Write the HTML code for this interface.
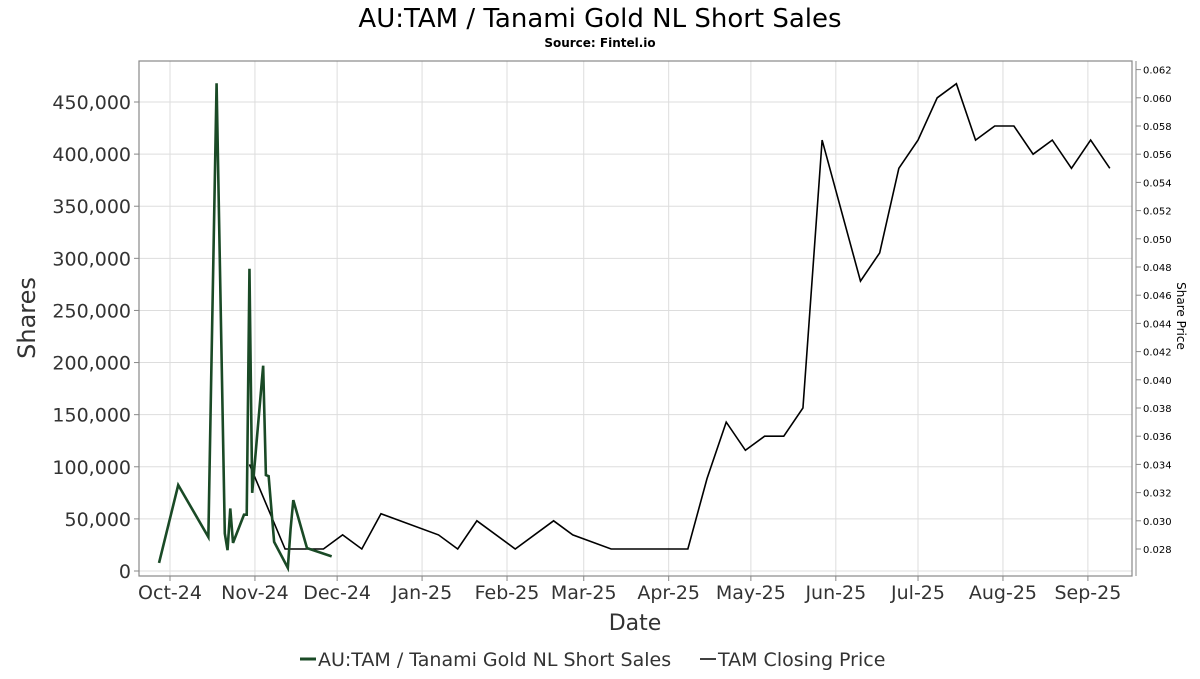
<!DOCTYPE html>
<html><head><meta charset="utf-8"><style>
body{margin:0;background:#fff;font-family:"DejaVu Sans","Liberation Sans",sans-serif}
svg text{font-family:"DejaVu Sans","Liberation Sans",sans-serif}
</style></head><body>
<svg id="chart" width="1200" height="675" xmlns="http://www.w3.org/2000/svg">
<rect width="1200" height="675" fill="#fff"/>
<text x="600" y="27" text-anchor="middle" font-size="26" fill="#000">AU:TAM / Tanami Gold NL Short Sales</text>
<text x="600" y="47" text-anchor="middle" font-size="12" font-weight="bold" fill="#000">Source: Fintel.io</text>
<g id="grid"></g>
<rect x="139" y="61" width="993" height="515" fill="none" stroke="#888" stroke-width="1.2"/>
<line x1="1136" y1="61" x2="1136" y2="576" stroke="#888"/>
<g id="axes"></g>
<g id="series"></g>
<text transform="translate(35,318) rotate(-90)" text-anchor="middle" font-size="24" fill="#333">Shares</text>
<text transform="translate(1177,316) rotate(90)" text-anchor="middle" font-size="12" fill="#000">Share Price</text>
<text x="635" y="630" text-anchor="middle" font-size="22" fill="#333">Date</text>
<g>
<line x1="300" y1="659" x2="316" y2="659" stroke="#1a4a26" stroke-width="3"/>
<text x="318" y="666" font-size="19" fill="#333">AU:TAM / Tanami Gold NL Short Sales</text>
<line x1="700" y1="659" x2="716" y2="659" stroke="#000" stroke-width="1.5"/>
<text x="718" y="666" font-size="19" fill="#333">TAM Closing Price</text>
</g>
</svg>
<script>
const shortDates=["2024-09-27","2024-10-04","2024-10-15","2024-10-16","2024-10-18","2024-10-21","2024-10-22","2024-10-23","2024-10-24","2024-10-28","2024-10-29","2024-10-30","2024-10-31","2024-11-04","2024-11-05","2024-11-06","2024-11-08","2024-11-13","2024-11-14","2024-11-15","2024-11-20","2024-11-29"];
const shortValues=[7700,82500,32600,180000,468000,36000,20000,60000,27000,54000,54000,290000,75000,197000,92000,91000,28000,3000,40000,68000,22000,14000];
const priceDates=["2024-10-30","2024-11-12","2024-11-19","2024-11-26","2024-12-03","2024-12-10","2024-12-17","2025-01-07","2025-01-14","2025-01-21","2025-02-04","2025-02-18","2025-02-25","2025-03-11","2025-03-18","2025-03-25","2025-04-01","2025-04-08","2025-04-15","2025-04-22","2025-04-29","2025-05-06","2025-05-13","2025-05-20","2025-05-27","2025-06-10","2025-06-17","2025-06-24","2025-07-01","2025-07-08","2025-07-15","2025-07-22","2025-07-29","2025-08-05","2025-08-12","2025-08-19","2025-08-26","2025-09-02","2025-09-09"];
const priceValues=[0.034,0.028,0.028,0.028,0.029,0.028,0.0305,0.029,0.028,0.030,0.028,0.030,0.029,0.028,0.028,0.028,0.028,0.028,0.033,0.037,0.035,0.036,0.036,0.038,0.057,0.047,0.049,0.055,0.057,0.060,0.061,0.057,0.058,0.058,0.056,0.057,0.055,0.057,0.055];
const xTickLabels=["Oct-24","Nov-24","Dec-24","Jan-25","Feb-25","Mar-25","Apr-25","May-25","Jun-25","Jul-25","Aug-25","Sep-25"];
const xTickDates=["2024-10-01","2024-11-01","2024-12-01","2025-01-01","2025-02-01","2025-03-01","2025-04-01","2025-05-01","2025-06-01","2025-07-01","2025-08-01","2025-09-01"];
const yTicks=[0,50000,100000,150000,200000,250000,300000,350000,400000,450000];
const y2Ticks=[0.028,0.030,0.032,0.034,0.036,0.038,0.040,0.042,0.044,0.046,0.048,0.050,0.052,0.054,0.056,0.058,0.060,0.062];

const NS="http://www.w3.org/2000/svg";
const t0=Date.UTC(2024,9,1);
function x(d){const p=d.split("-");return 170+((Date.UTC(+p[0],+p[1]-1,+p[2])-t0)/86400000)*2.74;}
function y(v){return 571-v*(469/450000);}
function y2(v){return 549-(v-0.028)*14100;}
function mk(tag,attrs,parent){const e=document.createElementNS(NS,tag);for(const k in attrs)e.setAttribute(k,attrs[k]);parent.appendChild(e);return e;}
const grid=document.getElementById("grid"),axes=document.getElementById("axes"),series=document.getElementById("series");
yTicks.forEach(v=>{
  const g=mk("line",{x1:139,x2:1132,y1:y(v),y2:y(v),stroke:"#ddd"},grid);
  
  
  const tk=mk("line",{x1:134,x2:139,y1:y(v),y2:y(v),stroke:"#888"},axes);
  
  
  const t=mk("text",{x:131,y:y(v)+7,"text-anchor":"end","font-size":19,fill:"#333"},axes);
  t.textContent=v.toLocaleString("en-US");
  
  
});
y2Ticks.forEach(v=>{
  const tk=mk("line",{x1:1136,x2:1141,y1:y2(v),y2:y2(v),stroke:"#888"},axes);
  
  
  const t=mk("text",{x:1143,y:y2(v)+4,"font-size":10,fill:"#000"},axes);
  t.textContent=v.toFixed(3);
  
  
});
xTickDates.forEach((d,i)=>{
  const xx=x(d);
  const g=mk("line",{x1:xx,x2:xx,y1:61,y2:576,stroke:"#ddd"},grid);
  
  
  const tk=mk("line",{x1:xx,x2:xx,y1:576,y2:581,stroke:"#888"},axes);
  
  
  const t=mk("text",{x:xx,y:599,"text-anchor":"middle","font-size":19,fill:"#333"},axes);
  t.textContent=xTickLabels[i];
  
  
});
const pl=mk("polyline",{points:priceDates.map((d,i)=>x(d)+","+y2(priceValues[i])).join(" "),fill:"none",stroke:"#000","stroke-width":1.6},series);


const sl=mk("polyline",{points:shortDates.map((d,i)=>x(d)+","+y(shortValues[i])).join(" "),fill:"none",stroke:"#1a4a26","stroke-width":2.6,"stroke-linejoin":"miter"},series);


</script>
</body></html>
